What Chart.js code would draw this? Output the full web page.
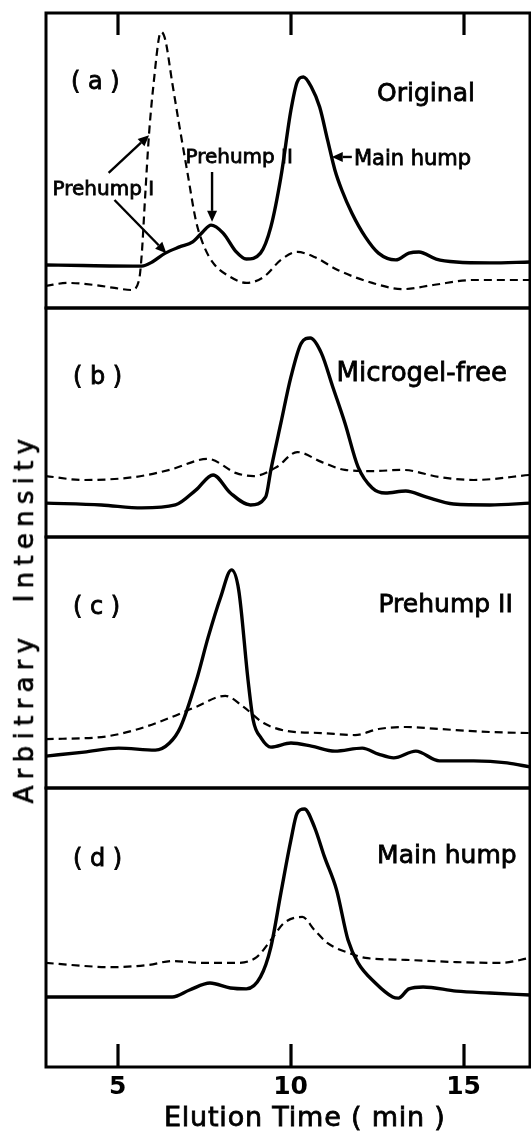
<!DOCTYPE html>
<html>
<head>
<meta charset="utf-8">
<script src="https://cdn.jsdelivr.net/npm/chart.js@4.4.0/dist/chart.umd.min.js"></script>
<style>
  html, body { margin: 0; padding: 0; background: #fff; }
  #fig { position: relative; width: 531px; height: 1131px; overflow: hidden; background: #fff; }
  #fig canvas { position: absolute; left: 0; }
  #ytitle {
    position: absolute; left: 24px; top: 618px;
    transform: translate(-50%, -50%) rotate(-90deg);
    font: 26px 'DejaVu Sans', sans-serif; letter-spacing: 6.3px;
    -webkit-text-stroke: 0.7px #000;
    white-space: pre; color: #000;
  }
</style>
</head>
<body>
<div id="fig">
  <canvas id="panelA" width="531" height="312" style="top:0px"></canvas>
  <canvas id="panelB" width="531" height="237" style="top:304px"></canvas>
  <canvas id="panelC" width="531" height="259" style="top:533px"></canvas>
  <canvas id="panelD" width="531" height="347" style="top:784px"></canvas>
  <div id="ytitle">Arbitrary  Intensity</div>
</div>
<script>
// x axis (elution time, min)
const xMin = 2.93, xMax = 16.92;
const xTicks = [5, 10, 15];
const xTitle = 'Elution Time ( min )';

// (a) Original
const aSolidT = [2.92, 4.0, 5.70, 6.00, 6.38, 6.79, 7.17, 7.46, 7.70, 8.05, 8.43, 8.72, 9.13, 9.43, 9.72, 10.01, 10.19, 10.37, 10.60, 10.84, 11.07, 11.28, 11.48, 11.77, 12.16, 12.54, 13.04, 13.42, 13.71, 14.21, 14.79, 15.76, 16.92];
const aSolidV = [14.6, 14.4, 14.2, 15.6, 18.6, 20.7, 22.4, 25.8, 28.1, 25.4, 19.0, 16.6, 18.6, 27.5, 44.4, 67.1, 76.6, 78.3, 74.9, 68.1, 56.9, 46.8, 40.0, 32.2, 24.1, 18.6, 16.3, 18.6, 19.0, 16.6, 15.6, 15.3, 15.6];
const aDashT = [2.92, 3.56, 4.33, 4.91, 5.41, 5.62, 5.70, 5.79, 5.91, 6.06, 6.20, 6.26, 6.38, 6.58, 6.79, 7.02, 7.26, 7.46, 7.76, 8.26, 8.72, 9.22, 9.72, 10.19, 10.69, 11.36, 12.36, 13.24, 14.12, 15.29, 16.92];
const aDashV = [7.5, 8.5, 7.8, 6.8, 6.1, 9.5, 18.6, 36.6, 59.3, 78.3, 91.9, 93.6, 90.8, 76.3, 61.4, 45.8, 29.8, 22.0, 15.3, 10.5, 8.5, 10.5, 16.3, 19.0, 17.3, 12.9, 8.5, 6.4, 7.8, 9.5, 9.5];

// (b) Microgel-free
const bSolidT = [2.92, 4.53, 5.70, 6.67, 7.26, 7.76, 8.26, 8.84, 9.28, 9.43, 9.72, 10.01, 10.31, 10.57, 10.89, 11.22, 11.57, 11.95, 12.36, 12.74, 13.33, 13.91, 14.71, 15.76, 16.92];
const bSolidV = [14.8, 14.0, 12.7, 14.0, 20.5, 27.1, 19.2, 14.0, 17.5, 29.3, 49.8, 69.9, 84.7, 86.9, 80.3, 65.5, 49.8, 30.6, 21.4, 19.2, 20.1, 17.5, 14.4, 14.0, 14.8];
const bDashT = [2.92, 4.03, 5.50, 6.50, 7.61, 8.43, 8.93, 9.60, 10.19, 10.89, 11.57, 12.36, 13.24, 14.30, 15.29, 16.92];
const bDashV = [26.6, 24.9, 26.2, 29.3, 34.1, 27.9, 26.6, 30.6, 37.1, 32.8, 29.3, 28.8, 29.3, 26.2, 24.9, 27.1];

// (c) Prehump II
const cSolidT = [2.92, 4.03, 5.03, 6.09, 6.50, 6.82, 7.28, 7.62, 7.98, 8.29, 8.50, 8.77, 8.92, 9.15, 9.43, 10.01, 10.60, 11.28, 12.07, 12.54, 12.98, 13.62, 14.30, 15.29, 16.26, 16.92];
const cSolidV = [12.7, 14.3, 15.9, 15.1, 17.9, 24.3, 43.0, 60.2, 76.1, 86.9, 78.9, 43.0, 27.0, 19.9, 16.3, 17.9, 16.7, 14.7, 15.9, 13.5, 12.0, 14.7, 10.8, 10.8, 10.0, 8.4];
const cDashT = [2.92, 4.53, 5.50, 6.50, 7.26, 8.11, 8.64, 9.22, 9.90, 10.89, 11.86, 12.54, 13.33, 14.30, 15.76, 16.92];
const cDashV = [19.5, 20.3, 23.1, 27.9, 32.3, 36.7, 32.3, 25.9, 22.7, 21.9, 21.1, 23.5, 24.3, 23.5, 22.3, 21.9];

// (d) Main hump
const dSolidT = [2.92, 5.03, 6.58, 7.08, 7.67, 8.26, 8.72, 9.13, 9.43, 9.72, 10.01, 10.19, 10.40, 10.69, 10.98, 11.33, 11.66, 11.95, 12.45, 12.95, 13.12, 13.42, 13.83, 14.79, 15.76, 16.92];
const dSolidV = [25.1, 25.1, 25.1, 27.6, 30.1, 28.3, 28.0, 32.3, 43.0, 62.4, 81.4, 91.0, 92.5, 86.0, 75.3, 63.4, 45.5, 37.3, 30.1, 25.1, 24.7, 28.0, 28.7, 27.2, 26.5, 25.8];
const dDashT = [2.92, 4.82, 5.91, 6.58, 7.46, 8.43, 9.02, 9.43, 9.81, 10.34, 10.69, 11.07, 11.77, 12.16, 13.33, 14.79, 16.06, 16.92];
const dDashV = [37.3, 35.8, 36.6, 38.0, 37.3, 37.3, 39.4, 45.5, 51.6, 53.8, 49.1, 44.4, 40.5, 39.1, 38.4, 37.6, 37.3, 39.1];

const FONT = "'DejaVu Sans', sans-serif";

// per-panel frame settings (kept outside Chart.js options)
const panelFrames = {
    panelA: {
        padTop: 13, tickSide: 'top',
        notes: [
            { text: '( a )', x: 3.65, y: 74.2, size: 24 },
            { text: 'Original', x: 12.5, y: 70.2, size: 25 },
            { text: 'Prehump II', x: 6.96, y: 49.2, size: 20 },
            { text: 'Main hump', x: 11.83, y: 48.6, size: 21 },
            { text: 'Prehump I', x: 3.12, y: 38.3, size: 20 }
        ],
        arrows: [[7.73, 46.1, 7.73, 29.2], [11.77, 51.2, 11.19, 51.2], [4.74, 45.8, 5.91, 58.6], [4.91, 36.6, 6.41, 18.6]]
    },
    panelB: {
        padTop: 4,
        notes: [
            { text: '( b )', x: 3.71, y: 66.8, size: 24 },
            { text: 'Microgel-free', x: 11.33, y: 68.1, size: 26 }
        ]
    },
    panelC: {
        padTop: 4,
        notes: [
            { text: '( c )', x: 3.71, y: 69.3, size: 24 },
            { text: 'Prehump II', x: 12.54, y: 70.1, size: 25 }
        ]
    },
    panelD: {
        padTop: 4, tickSide: 'bottom',
        notes: [
            { text: '( d )', x: 3.71, y: 72.0, size: 24 },
            { text: 'Main hump', x: 12.5, y: 73.1, size: 25 }
        ],
        axisTitle: { text: xTitle, at: 10.41 }
    }
};

function drawArrow(ctx, x1, y1, x2, y2) {
    const ang = Math.atan2(y2 - y1, x2 - x1);
    const len = 11, half = 5;
    const bx = x2 - len * Math.cos(ang), by = y2 - len * Math.sin(ang);
    ctx.lineWidth = 2.4;
    ctx.beginPath();
    ctx.moveTo(x1, y1);
    ctx.lineTo(bx, by);
    ctx.stroke();
    ctx.beginPath();
    ctx.moveTo(x2, y2);
    ctx.lineTo(bx + half * Math.sin(ang), by - half * Math.cos(ang));
    ctx.lineTo(bx - half * Math.sin(ang), by + half * Math.cos(ang));
    ctx.closePath();
    ctx.fill();
}

// heavier lettering, like the scanned figure
function boldText(ctx, text, px, py) {
    ctx.fillText(text, px, py);
    ctx.lineWidth = 0.8;
    ctx.strokeText(text, px, py);
}

// panel frame and text notes
const framePlugin = {
    id: 'frame',
    afterDraw(chart) {
        const opts = panelFrames[chart.canvas.id];
        const { ctx, chartArea: a } = chart;
        const x = chart.scales.x, y = chart.scales.y;
        ctx.save();
        ctx.setLineDash([]);
        ctx.strokeStyle = '#000';
        ctx.fillStyle = '#000';
        ctx.lineWidth = 3;
        ctx.strokeRect(a.left, a.top, a.right - a.left, a.bottom - a.top);
        ctx.textBaseline = 'alphabetic';
        ctx.textAlign = 'left';
        (opts.notes || []).forEach(n => {
            ctx.font = n.size + 'px ' + FONT;
            boldText(ctx, n.text, x.getPixelForValue(n.x), y.getPixelForValue(n.y));
        });
        (opts.arrows || []).forEach(r => {
            drawArrow(ctx, x.getPixelForValue(r[0]), y.getPixelForValue(r[1]),
                x.getPixelForValue(r[2]), y.getPixelForValue(r[3]));
        });
        if (opts.axisTitle) {
            ctx.font = '27px ' + FONT;
            ctx.textAlign = 'center';
            if ('letterSpacing' in ctx) ctx.letterSpacing = '0.8px';
            boldText(ctx, opts.axisTitle.text, x.getPixelForValue(opts.axisTitle.at), a.bottom + 59);
        }
        ctx.restore();
    }
};

// inward tick marks at 5, 10, 15 min, drawn last
const tickPlugin = {
    id: 'innerTicks',
    afterDraw(chart) {
        const side = panelFrames[chart.canvas.id].tickSide;
        if (!side) return;
        const { ctx, chartArea: a } = chart;
        const x = chart.scales.x;
        ctx.save();
        ctx.setLineDash([]);
        ctx.globalAlpha = 1;
        ctx.strokeStyle = '#000';
        ctx.lineWidth = 3.2;
        ctx.lineCap = 'butt';
        for (const v of xTicks) {
            const px = Math.round(x.getPixelForValue(v));
            ctx.beginPath();
            if (side === 'top') {
                ctx.moveTo(px, a.top);
                ctx.lineTo(px, a.top + 22);
            } else {
                ctx.moveTo(px, a.bottom);
                ctx.lineTo(px, a.bottom - 23);
            }
            ctx.stroke();
        }
        ctx.restore();
    }
};

function lineSet(t, v, dashed) {
    return {
        data: t.map((tx, i) => ({ x: tx, y: v[i] })),
        borderColor: '#000',
        borderWidth: dashed ? 2.2 : 3.4,
        borderDash: dashed ? [8, 5] : [],
        pointRadius: 0,
        tension: 0.4,
        cubicInterpolationMode: 'monotone',
        fill: false
    };
}

function makePanel(id, solid, dashed, withAxis) {
    const frame = panelFrames[id];
    const xScale = { type: 'linear', min: xMin, max: xMax, display: false };
    if (withAxis) {
        Object.assign(xScale, {
            display: true,
            position: 'bottom',
            grid: { display: false, drawTicks: false },
            border: { display: false },
            afterBuildTicks: s => { s.ticks = xTicks.map(v => ({ value: v })); },
            afterFit: s => { s.height = 64; },
            ticks: {
                color: '#000', padding: 5, maxRotation: 0, autoSkip: false,
                font: { family: FONT, size: 25, weight: 'bold' },
                callback: v => String(v)
            },
            title: { display: false, text: xTitle }
        });
    }
    new Chart(document.getElementById(id).getContext('2d'), {
        type: 'line',
        data: { datasets: [lineSet(solid[0], solid[1], false), lineSet(dashed[0], dashed[1], true)] },
        options: {
            responsive: false,
            animation: false,
            devicePixelRatio: 1,
            layout: { padding: { left: 46, right: 1, top: frame.padTop, bottom: withAxis ? 0 : 4 } },
            plugins: { legend: { display: false }, tooltip: { enabled: false } },
            scales: { x: xScale, y: { min: 0, max: 100, display: false } }
        },
        plugins: [framePlugin, tickPlugin]
    });
}

makePanel('panelA', [aSolidT, aSolidV], [aDashT, aDashV], false);
makePanel('panelB', [bSolidT, bSolidV], [bDashT, bDashV], false);
makePanel('panelC', [cSolidT, cSolidV], [cDashT, cDashV], false);
makePanel('panelD', [dSolidT, dSolidV], [dDashT, dDashV], true);
</script>
</body>
</html>
